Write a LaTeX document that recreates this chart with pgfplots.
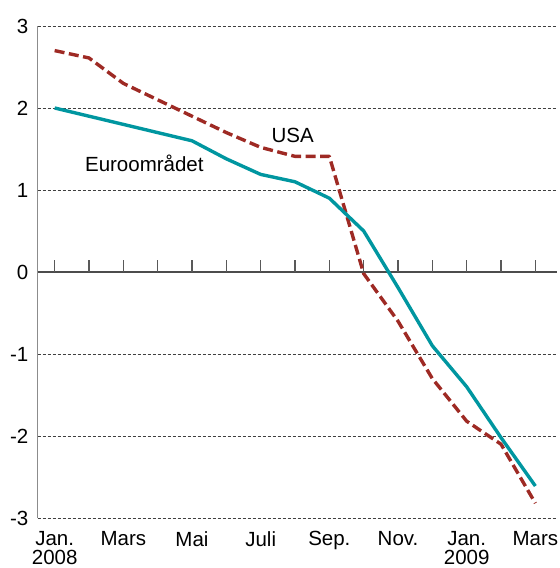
\documentclass[border=0pt]{standalone}
\usepackage{fontspec}
\setmainfont{Liberation Sans}
\usepackage{pgfplots}
\pgfplotsset{compat=1.18}
\definecolor{euro}{RGB}{0,150,160}
\definecolor{usared}{RGB}{158,42,36}
\newcommand\cf{\fontsize{20.5bp}{19bp}\selectfont}
\begin{document}
\begin{tikzpicture}
\useasboundingbox (-37.5bp,-50bp) rectangle (522.5bp,518bp);
\begin{axis}[
  at={(0,0)}, anchor=south west, scale only axis,
  width=519.5bp, height=492bp,
  xmin=-0.5, xmax=14.63, ymin=-3, ymax=3,
  axis y line*=left, axis x line*=bottom,
  x axis line style={draw=none},
  y axis line style={draw=black!45, line width=1.3bp},
  major tick length=0pt,
  ytick={-3,-2,-1,0,1,2,3},
  yticklabels={-3,-2,-1,0,1,2,3},
  xtick={0,2,4,6,8,10,12,14},
  xticklabels={{Jan.\\2008},Mars,Mai,Juli,Sep.,Nov.,{Jan.\\2009},Mars},
  xticklabel style={align=center, anchor=north, inner sep=0pt, yshift=-13bp, font=\cf},
  yticklabel style={anchor=east, inner sep=0pt, xshift=-9bp, font=\cf},
  ymajorgrids,
  grid style={black!75, line width=0.8bp, dash pattern=on 3bp off 2bp},
  clip=false,
]
\draw[black!70, line width=1.2bp] (axis cs:-0.5,0) -- (axis cs:14.63,0);
\pgfplotsinvokeforeach{0,...,14}{\draw[black!65, line width=1.2bp] (axis cs:#1,0) -- ([yshift=12bp]axis cs:#1,0);}
\addplot[usared, line width=3.4bp, dash pattern=on 10bp off 4.5bp, line join=round] coordinates {
(0,2.7) (1,2.61) (2,2.3) (3,2.1) (4,1.9) (5,1.7) (6,1.52) (7,1.41) (8,1.41)
(9,-0.02) (10,-0.6) (11,-1.3) (12,-1.82) (13,-2.1) (14,-2.82)};
\addplot[euro, line width=3.4bp, line join=round] coordinates {
(0,2.0) (1,1.9) (2,1.8) (3,1.7) (4,1.6) (5,1.38) (6,1.19) (7,1.1) (8,0.9)
(9,0.5) (10,-0.19) (11,-0.9) (12,-1.4) (13,-2.02) (14,-2.61)};
\node[anchor=base west, inner sep=0pt, font=\cf] at (axis cs:0.88,1.22) {Euroområdet};
\node[anchor=base west, inner sep=0pt, font=\cf] at (axis cs:6.31,1.585) {USA};
\end{axis}
\end{tikzpicture}
\end{document}
